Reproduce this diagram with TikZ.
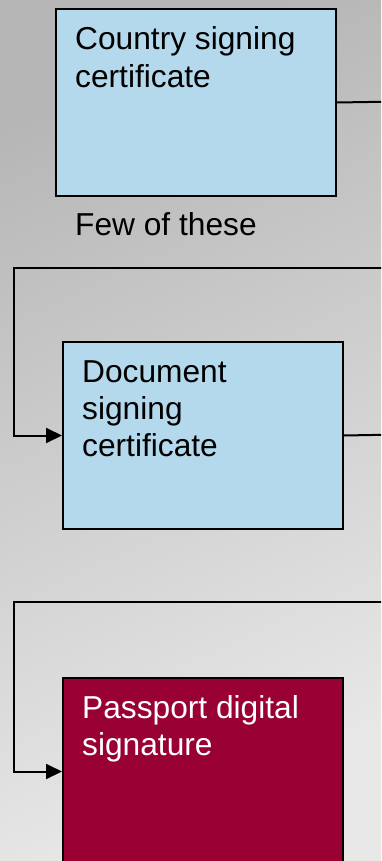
\documentclass[tikz,border=0pt]{standalone}
\usepackage{fontspec}
\setmainfont{Liberation Sans}
\usetikzlibrary{arrows.meta}
\definecolor{bgtop}{RGB}{182,182,182}
\definecolor{bgbot}{RGB}{232,232,232}
\definecolor{certblue}{RGB}{180,216,236}
\definecolor{sigred}{RGB}{153,0,51}
\tikzset{
  certbox/.style={draw=black, line width=2pt, fill=certblue, minimum width=280pt, minimum height=187pt, inner sep=0pt, anchor=north west},
  sigbox/.style={certbox, fill=sigred},
  boxtext/.style={anchor=base west, align=left, inner sep=0pt, font=\fontsize{31.7}{37.2}\selectfont},
  link/.style={draw=black, line width=2pt},
  linkarrow/.style={link, -{Triangle[length=16pt,width=15pt]}}
}
\begin{document}
\begin{tikzpicture}[x=1pt,y=-1pt]
\useasboundingbox (0,0) rectangle (381,861);
\clip (0,0) rectangle (381,861);
\shade[top color=bgtop, bottom color=bgbot, shading angle=25] (0,0) rectangle (381,861);
% boxes
\node[certbox] (b1) at (55,8) {};
\node[certbox] (b2) at (62,341) {};
\node[sigbox] (b3) at (62,677) {};
% texts (base anchor = baseline of last line)
\node[boxtext] (t1) at (75,87.2) {Country signing\\certificate};
\node[boxtext] (t2) at (82,456.4) {Document\\signing\\certificate};
\node[boxtext, text=white] (t3) at (82,755.2) {Passport digital\\signature};
\node[boxtext] (few) at (75,235) {Few of these};
% connectors
\coordinate (o1) at (400,101.5);
\coordinate (r1) at (400,268);
\coordinate (l1) at (14,268);
\coordinate (o2) at (400,434.5);
\coordinate (r2) at (400,602);
\coordinate (l2) at (14,602);
\draw[link] (b1.east) -- (o1) -- (r1);
\draw[linkarrow] (r1) -- (l1) |- (b2.west);
\draw[link] (b2.east) -- (o2) -- (r2);
\draw[linkarrow] (r2) -- (l2) |- (b3.west);
\end{tikzpicture}
\end{document}
